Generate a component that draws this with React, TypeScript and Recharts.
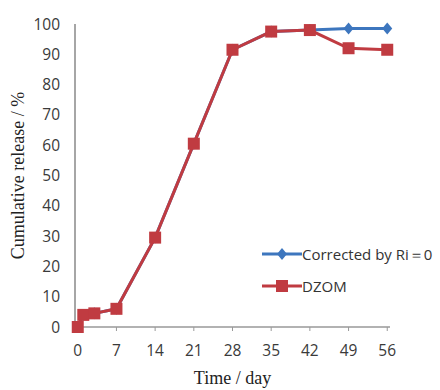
import React from "react";
import { LineChart, Line, XAxis, YAxis, Legend } from "recharts";

const days = [0, 1, 3, 7, 14, 21, 28, 35, 42, 49, 56];
const dzom = [0, 4, 4.5, 6, 29.5, 60.5, 91.5, 97.5, 98, 92, 91.5];
const corrected = [0, 4, 4.5, 6, 29.5, 60.5, 91.5, 97.5, 98, 98.5, 98.5];
const xTicks = [0, 7, 14, 21, 28, 35, 42, 49, 56];
const yTicks = [0, 10, 20, 30, 40, 50, 60, 70, 80, 90, 100];
const seriesNames = ["Corrected by Ri\uFF1D0", "DZOM"];

const BLUE = "#3D76BE";
const RED = "#C03B41";

const data = days.map((d, i) => ({ day: d, corrected: corrected[i], dzom: dzom[i] }));

const SquareDot = (props: any) => {
  const { cx, cy } = props;
  if (cx == null || cy == null) return null;
  const s = 12;
  return <rect x={cx - s / 2} y={cy - s / 2} width={s} height={s} fill={RED} />;
};

const DiamondDot = (props: any) => {
  const { cx, cy } = props;
  if (cx == null || cy == null) return null;
  return (
    <polygon
      points={`${cx},${cy - 6} ${cx + 5},${cy} ${cx},${cy + 6} ${cx - 5},${cy}`}
      fill={BLUE}
    />
  );
};

const LegendContent = () => (
  <div style={{ fontFamily: "'Open Sans', sans-serif", fontSize: 15, color: "#333" }}>
    <div style={{ display: "flex", alignItems: "center", height: 32 }}>
      <svg width={40} height={16}>
        <line x1={0} y1={8} x2={40} y2={8} stroke={BLUE} strokeWidth={3} />
        <polygon points="20,2 25,8 20,14 15,8" fill={BLUE} />
      </svg>
      <span style={{ whiteSpace: "nowrap" }}>{seriesNames[0]}</span>
    </div>
    <div style={{ display: "flex", alignItems: "center", height: 32 }}>
      <svg width={40} height={16}>
        <line x1={0} y1={8} x2={40} y2={8} stroke={RED} strokeWidth={3} />
        <rect x={14} y={2} width={12} height={12} fill={RED} />
      </svg>
      <span>{seriesNames[1]}</span>
    </div>
  </div>
);

const XTitle = (props: any) => {
  const vb = props.viewBox || {};
  return (
    <text
      x={vb.x + vb.width / 2}
      y={vb.y + 57}
      textAnchor="middle"
      fontFamily="'Liberation Serif', 'Times New Roman', serif"
      fontSize={18}
      fill="#222"
    >
      Time / day
    </text>
  );
};

const YTitle = (props: any) => {
  const vb = props.viewBox || {};
  const cx = vb.x + 18;
  const cy = vb.y + vb.height / 2;
  return (
    <text
      x={cx}
      y={cy}
      transform={`rotate(-90 ${cx} ${cy})`}
      textAnchor="middle"
      dominantBaseline="central"
      fontFamily="'Liberation Serif', 'Times New Roman', serif"
      fontSize={18}
      fill="#222"
    >
      Cumulative release / %
    </text>
  );
};

export default function App() {
  return (
    <div style={{ position: "absolute", left: 0, top: 0, width: 440, height: 390, background: "#fff" }}>
      <LineChart width={440} height={390} data={data} margin={{ top: 24, right: 50, bottom: 0, left: 0 }}>
        <XAxis
          dataKey="day"
          type="number"
          domain={[-0.5, 56.5]}
          ticks={xTicks}
          interval={0}
          height={63}
          tickSize={4}
          tickMargin={14}
          stroke="#999"
          tickLine={{ stroke: "#999" }}
          axisLine={{ stroke: "#999", strokeWidth: 1.5 }}
          tick={{ fill: "#3a3a3a", fontSize: 15.5, fontFamily: "'Open Sans', sans-serif" }}
          label={<XTitle />}
        />
        <YAxis
          type="number"
          domain={[0, 100]}
          ticks={yTicks}
          interval={0}
          width={75}
          tickSize={0}
          tickMargin={15}
          tickLine={false}
          axisLine={{ stroke: "#888", strokeWidth: 1.5 }}
          tick={{ fill: "#3a3a3a", fontSize: 15.5, fontFamily: "'Open Sans', sans-serif" }}
          label={<YTitle />}
        />
        <Legend
          layout="horizontal"
          align="center"
          verticalAlign="middle"
          content={<LegendContent />}
          wrapperStyle={{ position: "absolute", left: 262, top: 238, width: 180 }}
        />
        <Line
          dataKey="corrected"
          name={seriesNames[0]}
          stroke={BLUE}
          strokeWidth={3}
          dot={<DiamondDot />}
          activeDot={false}
          isAnimationActive={false}
        />
        <Line
          dataKey="dzom"
          name={seriesNames[1]}
          stroke={RED}
          strokeWidth={3}
          dot={<SquareDot />}
          activeDot={false}
          isAnimationActive={false}
        />
      </LineChart>
    </div>
  );
}
